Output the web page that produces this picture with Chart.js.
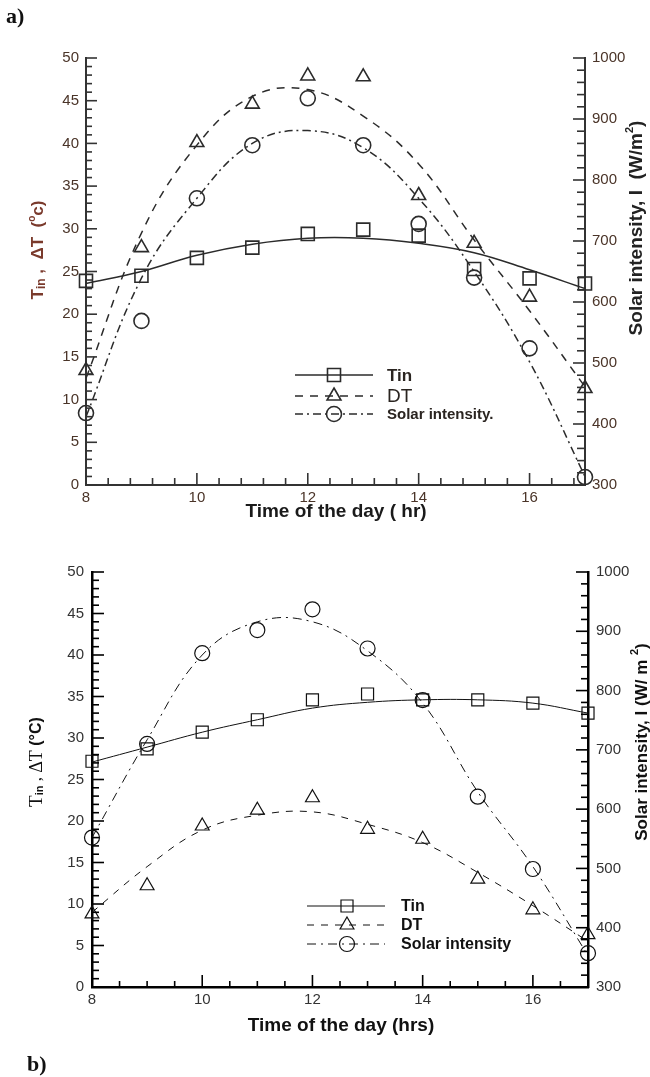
<!DOCTYPE html>
<html>
<head>
<meta charset="utf-8">
<script src="https://cdn.jsdelivr.net/npm/chart.js@4.4.0/dist/chart.umd.min.js"></script>
<style>
  body { margin: 0; background: #fff; width: 650px; height: 1077px; position: relative; overflow: hidden; }
  .panel { position: absolute; left: 0; }
  #wrapA { top: 0; }
  #wrapB { top: 530px; }
  .tag { position: absolute; font: bold 22px "Liberation Serif", "Times New Roman", serif; line-height: 22px; color: #111; z-index: 2; }
</style>
</head>
<body>
<div id="wrapA" class="panel"><canvas id="chartA" width="650" height="530"></canvas></div>
<div id="wrapB" class="panel"><canvas id="chartB" width="650" height="547"></canvas></div>
<div class="tag" style="left:6px;top:5px">a)</div>
<div class="tag" style="left:27px;top:1053px">b)</div>
<script>
// Shared axes
const hours = [8, 9, 10, 11, 12, 13, 14, 15, 16, 17];
const hourTicks = [8, 10, 12, 14, 16];
const tempTicks = [0, 5, 10, 15, 20, 25, 30, 35, 40, 45, 50];
const solarTicks = [300, 400, 500, 600, 700, 800, 900, 1000];

// Panel a: measured points
const tinA = [23.9, 24.5, 26.6, 27.8, 29.4, 29.9, 29.2, 25.3, 24.2, 23.6];
const dtA = [13.4, 27.8, 40.1, 44.6, 47.9, 47.8, 33.9, 28.3, 22.0, 11.3];
const solarA = [418, 569, 770, 857, 934, 857, 728, 640, 524, 313];
// Panel a: fitted curves
const tinFitA = [23.6, 25.0, 26.9, 28.2, 28.9, 28.9, 28.3, 27.2, 25.2, 23.0];
const dtFitA = [12.5, 29.5, 39.8, 45.5, 46.3, 43.2, 37.6, 28.7, 20.4, 11.5];
const solarFitA = [412, 639, 770, 860, 881, 853, 770, 650, 502, 314];
const keyLabelsA = ['Tin', 'DT', 'Solar intensity.'];

// Panel b: measured points
const tinB = [27.2, 28.7, 30.7, 32.2, 34.6, 35.3, 34.6, 34.6, 34.2, 33.0];
const dtB = [8.8, 12.2, 19.4, 21.3, 22.8, 19.0, 17.8, 13.0, 9.3, 6.3];
const solarB = [552, 710, 863, 902, 937, 871, 784, 621, 499, 357];
// Panel b: fitted curves
const tinFitB = [27.1, 28.9, 30.7, 32.2, 33.6, 34.3, 34.6, 34.6, 34.2, 33.0];
const dtFitB = [9.0, 14.5, 18.9, 20.7, 21.1, 19.6, 17.4, 13.8, 9.8, 5.5];
const solarFitB = [552, 717, 860, 916, 916, 867, 779, 629, 503, 353];
const keyLabelsB = ['Tin', 'DT', 'Solar intensity'];

const SANS = '"Liberation Sans", Arial, sans-serif';
const SERIF = '"Liberation Serif", "Times New Roman", serif';

function pairs(values) {
    return hours.map((h, i) => ({ x: h, y: values[i] }));
}

function buildDatasets(d, look) {
    const mark = (values, style, radius, axis) => ({
        data: pairs(values),
        yAxisID: axis,
        showLine: false,
        clip: false,
        pointStyle: style,
        pointRadius: radius,
        pointBorderWidth: look.markWidth,
        pointBorderColor: look.ink,
        pointBackgroundColor: 'rgba(0,0,0,0)'
    });
    const fit = (values, dash, axis) => ({
        data: pairs(values),
        yAxisID: axis,
        pointRadius: 0,
        borderColor: look.ink,
        borderWidth: look.lineWidth,
        borderDash: dash,
        tension: 0.4,
        fill: false
    });
    return [
        mark(d.tin, 'rect', look.rect, 'yT'),
        mark(d.dt, 'triangle', look.tri, 'yT'),
        mark(d.solar, 'circle', look.circ, 'yS'),
        fit(d.tinFit, [], 'yT'),
        fit(d.dtFit, look.dash, 'yT'),
        fit(d.solarFit, look.dashDot, 'yS')
    ];
}

function buildScales(look) {
    const font = { family: SANS, size: look.tickSize };
    const border = { display: true, color: look.axisColor, width: look.axisWidth };
    const grid = { display: true, drawOnChartArea: false, drawTicks: false };
    const fixed = list => s => { s.ticks = list.map(v => ({ value: v })); };
    const plain = v => String(v);
    return {
        x: {
            type: 'linear', min: 8, max: 17, border: border, grid: grid,
            ticks: { font: font, color: look.tickColor, padding: look.xPad, maxRotation: 0, callback: plain },
            afterBuildTicks: fixed(hourTicks),
            afterFit: s => { s.height = look.xHeight; }
        },
        yT: {
            position: 'left', min: 0, max: 50, border: border, grid: grid,
            ticks: { font: font, color: look.tickColor, padding: look.yPad, callback: plain },
            afterBuildTicks: fixed(tempTicks),
            afterFit: s => { s.width = look.left; }
        },
        yS: {
            position: 'right', min: 300, max: 1000, border: border, grid: grid,
            ticks: { font: font, color: look.tickColor, padding: look.yPad, callback: plain },
            afterBuildTicks: fixed(solarTicks),
            afterFit: s => { s.width = 650 - look.right; }
        }
    };
}

// Tick marks pointing into the plot, with minor divisions
const innerTicks = {
    id: 'innerTicks',
    afterDraw(chart, args, o) {
        const ctx = chart.ctx;
        const area = chart.chartArea;
        ctx.save();
        ctx.strokeStyle = o.color;
        ctx.lineWidth = o.width;
        o.axes.forEach(a => {
            const scale = chart.scales[a.id];
            const n = Math.floor((scale.max - scale.min) / a.minor + 1e-6);
            for (let i = 0; i <= n; i++) {
                const v = scale.min + i * a.minor;
                const r = (v - a.base) / a.major;
                const len = Math.abs(r - Math.round(r)) < 1e-6 ? a.majorLen : a.minorLen;
                const p = scale.getPixelForValue(v);
                ctx.beginPath();
                if (a.id === 'x') {
                    ctx.moveTo(p, area.bottom);
                    ctx.lineTo(p, area.bottom - len);
                } else if (scale.position === 'left') {
                    ctx.moveTo(area.left, p);
                    ctx.lineTo(area.left + len, p);
                } else {
                    ctx.moveTo(area.right, p);
                    ctx.lineTo(area.right - len, p);
                }
                ctx.stroke();
            }
        });
        ctx.restore();
    }
};

function drawRich(ctx, t) {
    ctx.save();
    ctx.translate(t.x, t.y);
    if (t.rotate) ctx.rotate(-Math.PI / 2);
    ctx.fillStyle = t.color;
    ctx.textBaseline = 'middle';
    ctx.textAlign = 'left';
    let total = 0;
    t.parts.forEach(p => { ctx.font = p.f; total += ctx.measureText(p.t).width; });
    let cx = -total / 2;
    t.parts.forEach(p => {
        ctx.font = p.f;
        ctx.fillText(p.t, cx, p.dy || 0);
        cx += ctx.measureText(p.t).width;
    });
    ctx.restore();
}

const axisTitles = {
    id: 'axisTitles',
    afterDraw(chart, args, o) {
        o.items.forEach(t => drawRich(chart.ctx, t));
    }
};

function drawMark(ctx, style, r, x, y) {
    ctx.beginPath();
    if (style === 'rect') {
        const s = r * Math.SQRT1_2;
        ctx.rect(x - s, y - s, 2 * s, 2 * s);
    } else if (style === 'triangle') {
        ctx.moveTo(x, y - r);
        ctx.lineTo(x + r * 0.866, y + r / 2);
        ctx.lineTo(x - r * 0.866, y + r / 2);
        ctx.closePath();
    } else {
        ctx.arc(x, y, r, 0, Math.PI * 2);
    }
    ctx.stroke();
}

// Key drawn inside the plot, one row per series
const seriesKey = {
    id: 'seriesKey',
    afterDatasetsDraw(chart, args, o) {
        const ctx = chart.ctx;
        const ds = chart.data.datasets;
        o.rows.forEach((y, i) => {
            const m = ds[i];
            const f = ds[i + 3];
            ctx.save();
            ctx.strokeStyle = f.borderColor;
            ctx.lineWidth = f.borderWidth;
            ctx.setLineDash(f.borderDash);
            ctx.beginPath();
            ctx.moveTo(o.lineFrom, y);
            ctx.lineTo(o.lineTo, y);
            ctx.stroke();
            ctx.setLineDash([]);
            ctx.lineWidth = m.pointBorderWidth;
            ctx.strokeStyle = m.pointBorderColor;
            drawMark(ctx, m.pointStyle, m.pointRadius, o.markX, y);
            ctx.fillStyle = o.color;
            ctx.font = o.fonts[i];
            ctx.textBaseline = 'middle';
            ctx.fillText(o.labels[i], o.textX, y + 1);
            ctx.restore();
        });
    }
};

function makeChart(id, d, look, titles, key, ticks) {
    return new Chart(document.getElementById(id), {
        type: 'line',
        data: { datasets: buildDatasets(d, look) },
        options: {
            responsive: false,
            animation: false,
            events: [],
            layout: { padding: { top: look.top, left: 0, right: 0, bottom: 0 } },
            scales: buildScales(look),
            plugins: {
                legend: { display: false },
                tooltip: { enabled: false },
                innerTicks: ticks,
                axisTitles: { items: titles },
                seriesKey: key
            }
        },
        plugins: [innerTicks, axisTitles, seriesKey]
    });
}

// Panel a
makeChart('chartA', {
    tin: tinA, dt: dtA, solar: solarA,
    tinFit: tinFitA, dtFit: dtFitA, solarFit: solarFitA
}, {
    top: 58, left: 86, right: 585, xHeight: 45,
    ink: '#2b2b2b', lineWidth: 1.5, markWidth: 1.6,
    rect: 9.2, tri: 8, circ: 7.5,
    dash: [8, 7], dashDot: [8, 4, 2, 4],
    axisColor: '#333', axisWidth: 2,
    tickSize: 15, tickColor: '#4a3428', xPad: 4, yPad: 7
}, [
    { x: 38, y: 250, rotate: true, color: '#7a3a2c', parts: [
        { t: 'T', f: 'bold 17px ' + SANS },
        { t: 'in', f: 'bold 12px ' + SANS, dy: 4 },
        { t: ' ,  ΔT  (', f: 'bold 17px ' + SANS },
        { t: 'o', f: 'bold 10px ' + SANS, dy: -6 },
        { t: 'c)', f: 'bold 17px ' + SANS }
    ] },
    { x: 637, y: 228, rotate: true, color: '#222', parts: [
        { t: 'Solar intensity, I  (W/m', f: 'bold 19px ' + SANS },
        { t: '2', f: 'bold 11px ' + SANS, dy: -7 },
        { t: ')', f: 'bold 19px ' + SANS }
    ] },
    { x: 336, y: 512, rotate: false, color: '#1a1a1a', parts: [
        { t: 'Time of the day ( hr)', f: 'bold 19px ' + SANS }
    ] }
], {
    rows: [375, 396, 414], lineFrom: 295, lineTo: 373, markX: 334, textX: 387,
    color: '#2a2420', labels: keyLabelsA,
    fonts: ['bold 17px ' + SANS, '19px ' + SANS, 'bold 15px ' + SANS]
}, {
    color: '#333', width: 1.6,
    axes: [
        { id: 'x', minor: 0.4, major: 2, base: 8, majorLen: 12, minorLen: 7 },
        { id: 'yT', minor: 1, major: 5, base: 0, majorLen: 11, minorLen: 6 },
        { id: 'yS', minor: 20, major: 100, base: 300, majorLen: 12, minorLen: 8 }
    ]
});

// Panel b
makeChart('chartB', {
    tin: tinB, dt: dtB, solar: solarB,
    tinFit: tinFitB, dtFit: dtFitB, solarFit: solarFitB
}, {
    top: 42, left: 92, right: 588, xHeight: 90,
    ink: '#111', lineWidth: 1, markWidth: 1.2,
    rect: 8.5, tri: 8, circ: 7.5,
    dash: [7, 7], dashDot: [9, 5, 2, 5],
    axisColor: '#000', axisWidth: 2.5,
    tickSize: 15, tickColor: '#333', xPad: 4, yPad: 8
}, [
    { x: 37, y: 232, rotate: true, color: '#111', parts: [
        { t: 'T', f: '19px ' + SERIF },
        { t: 'in', f: 'bold 11px ' + SANS, dy: 3 },
        { t: ' , ', f: '17px ' + SERIF },
        { t: 'ΔT', f: '18px ' + SERIF },
        { t: ' (°C)', f: 'bold 16px ' + SANS }
    ] },
    { x: 642, y: 212, rotate: true, color: '#111', parts: [
        { t: 'Solar intensity, I (W/ m ', f: 'bold 17px ' + SANS },
        { t: '2', f: 'bold 11px ' + SANS, dy: -7 },
        { t: ')', f: 'bold 17px ' + SANS }
    ] },
    { x: 341, y: 496, rotate: false, color: '#111', parts: [
        { t: 'Time of the day (hrs)', f: 'bold 19px ' + SANS }
    ] }
], {
    rows: [376, 395, 414], lineFrom: 307, lineTo: 385, markX: 347, textX: 401,
    color: '#111', labels: keyLabelsB,
    fonts: ['bold 16px ' + SANS, 'bold 16px ' + SANS, 'bold 16px ' + SANS]
}, {
    color: '#000', width: 1.6,
    axes: [
        { id: 'x', minor: 0.5, major: 2, base: 8, majorLen: 12, minorLen: 6 },
        { id: 'yT', minor: 1, major: 5, base: 0, majorLen: 12, minorLen: 7 },
        { id: 'yS', minor: 20, major: 100, base: 300, majorLen: 12, minorLen: 7 }
    ]
});
</script>
</body>
</html>
